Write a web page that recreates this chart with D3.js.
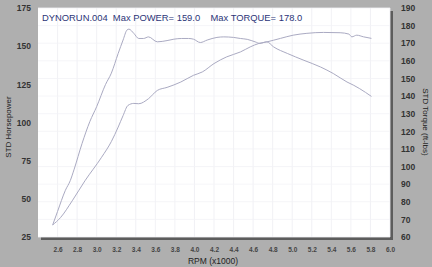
<!DOCTYPE html>
<html>
<head>
<meta charset="utf-8">
<script src="https://cdn.jsdelivr.net/npm/d3@7"></script>
<style>
  body { margin: 0; background: #afafaf; }
  svg { display: block; font-family: "Liberation Sans", Arial, sans-serif; }
</style>
</head>
<body>
<div id="content"></div>
<script>
// rpm (x1000) readings for each curve
const hp_rpm = [2.55, 2.63, 2.75, 2.88, 3.05, 3.15, 3.22, 3.27, 3.32, 3.38, 3.43, 3.53, 3.62, 3.72, 3.86, 3.99, 4.08, 4.2, 4.33, 4.47, 4.57, 4.66, 4.74, 4.88, 5.01, 5.15, 5.32, 5.49, 5.58, 5.61, 5.66, 5.73, 5.81];
const hp_values = [32.9, 37.7, 48.7, 61.8, 77.2, 87.5, 97.0, 104.5, 111.2, 112.5, 112.3, 115.6, 121.0, 123.0, 126.5, 130.9, 133.1, 138.6, 143.0, 146.2, 149.5, 151.8, 152.8, 155.1, 157.2, 158.4, 159.0, 158.8, 157.9, 156.1, 157.2, 156.1, 155.1];
const tq_rpm = [2.55, 2.6, 2.68, 2.73, 2.77, 2.85, 2.93, 3.0, 3.09, 3.15, 3.22, 3.27, 3.31, 3.33, 3.38, 3.43, 3.48, 3.53, 3.62, 3.72, 3.79, 3.87, 3.94, 3.99, 4.06, 4.13, 4.23, 4.3, 4.4, 4.47, 4.54, 4.62, 4.67, 4.74, 4.81, 4.95, 5.12, 5.29, 5.42, 5.56, 5.63, 5.69, 5.81];
const tq_values = [66.8, 74.5, 86.5, 92.0, 98.5, 113.0, 125.5, 134.0, 146.5, 153.0, 164.2, 171.8, 177.5, 178.0, 175.6, 172.7, 172.7, 173.6, 170.8, 171.5, 172.3, 172.7, 172.7, 172.3, 170.4, 171.8, 173.3, 173.6, 173.3, 172.7, 172.2, 170.8, 169.9, 170.8, 167.9, 164.2, 160.3, 156.5, 152.8, 148.0, 146.1, 144.2, 139.8];

const x_ticks = [2.6, 2.8, 3.0, 3.2, 3.4, 3.6, 3.8, 4.0, 4.2, 4.4, 4.6, 4.8, 5.0, 5.2, 5.4, 5.6, 5.8, 6.0];
const hp_ticks = [25, 50, 75, 100, 125, 150, 175];
const tq_ticks = [60, 70, 80, 90, 100, 110, 120, 130, 140, 150, 160, 170, 180, 190];

const chart_w = 432, chart_h = 267;
const plot_l = 38, plot_r = 390, plot_t = 8, plot_b = 237;
const line_color = "#aaaac2";

var svg = d3.select("#content")
    .append("svg")
    .attr("width", chart_w)
    .attr("height", chart_h);

var x = d3.scaleLinear().domain([2.4, 6.0]).range([plot_l, plot_r]);
var y_hp = d3.scaleLinear().domain([25, 175]).range([plot_b, plot_t]);
var y_tq = d3.scaleLinear().domain([60, 190]).range([plot_b, plot_t]);

// shadow + white plot area
svg.append("rect")
    .attr("x", plot_l + 3).attr("y", plot_t + 3)
    .attr("width", plot_r - plot_l).attr("height", plot_b - plot_t)
    .attr("fill", "#5c5c5c");
svg.append("rect")
    .attr("x", plot_l).attr("y", plot_t)
    .attr("width", plot_r - plot_l).attr("height", plot_b - plot_t)
    .attr("fill", "#ffffff");

// faint grid
svg.append("g")
    .selectAll("line")
    .data(x_ticks)
    .join("line")
    .attr("x1", d => x(d)).attr("x2", d => x(d))
    .attr("y1", plot_t).attr("y2", plot_b)
    .attr("stroke", "#ededf2")
    .attr("stroke-width", 0.8);
svg.append("g")
    .selectAll("line")
    .data(tq_ticks)
    .join("line")
    .attr("x1", plot_l).attr("x2", plot_r)
    .attr("y1", d => y_tq(d)).attr("y2", d => y_tq(d))
    .attr("stroke", "#f3f3f6")
    .attr("stroke-width", 0.8);

// axes
var axis_left = d3.axisLeft(y_hp).tickValues(hp_ticks).tickSize(0).tickPadding(7);
svg.append("g")
    .attr("transform", "translate(" + plot_l + ",0)")
    .call(axis_left)
    .call(g => g.select(".domain").remove())
    .selectAll("text")
    .attr("font-size", "8.5px")
    .attr("font-weight", "bold")
    .attr("fill", "#333");

var axis_right = d3.axisRight(y_tq).tickValues(tq_ticks).tickSize(0).tickPadding(11);
svg.append("g")
    .attr("transform", "translate(" + plot_r + ",0)")
    .call(axis_right)
    .call(g => g.select(".domain").remove())
    .selectAll("text")
    .attr("font-size", "8.5px")
    .attr("font-weight", "bold")
    .attr("fill", "#333");

var axis_bottom = d3.axisBottom(x).tickValues(x_ticks).tickSize(0).tickPadding(10).tickFormat(d3.format(".1f"));
svg.append("g")
    .attr("transform", "translate(0," + plot_b + ")")
    .call(axis_bottom)
    .call(g => g.select(".domain").remove())
    .selectAll("text")
    .attr("font-size", "6.5px")
    .attr("font-weight", "bold")
    .attr("fill", "#444");

// axis titles
svg.append("text")
    .attr("transform", "translate(11,127) rotate(-90)")
    .attr("text-anchor", "middle")
    .attr("font-size", "8px")
    .attr("fill", "#222")
    .text("STD Horsepower");
svg.append("text")
    .attr("transform", "translate(423,122) rotate(90)")
    .attr("text-anchor", "middle")
    .attr("font-size", "8px")
    .attr("fill", "#222")
    .text("STD Torque (ft-lbs)");
svg.append("text")
    .attr("x", 213).attr("y", 264)
    .attr("text-anchor", "middle")
    .attr("font-size", "8.5px")
    .attr("fill", "#222")
    .text("RPM (x1000)");

// header inside plot
svg.append("text")
    .attr("x", 42).attr("y", 20.5)
    .attr("font-size", "9.4px")
    .attr("fill", "#2c3578")
    .attr("xml:space", "preserve")
    .text("DYNORUN.004  Max POWER= 159.0    Max TORQUE= 178.0");

// curves
var line_hp = d3.line().x((d, i) => x(hp_rpm[i])).y(d => y_hp(d)).curve(d3.curveMonotoneX);
var line_tq = d3.line().x((d, i) => x(tq_rpm[i])).y(d => y_tq(d)).curve(d3.curveMonotoneX);

svg.append("path")
    .datum(hp_values)
    .attr("d", line_hp)
    .attr("fill", "none")
    .attr("stroke", line_color)
    .attr("stroke-width", 1);
svg.append("path")
    .datum(tq_values)
    .attr("d", line_tq)
    .attr("fill", "none")
    .attr("stroke", line_color)
    .attr("stroke-width", 1);
</script>
</body>
</html>
